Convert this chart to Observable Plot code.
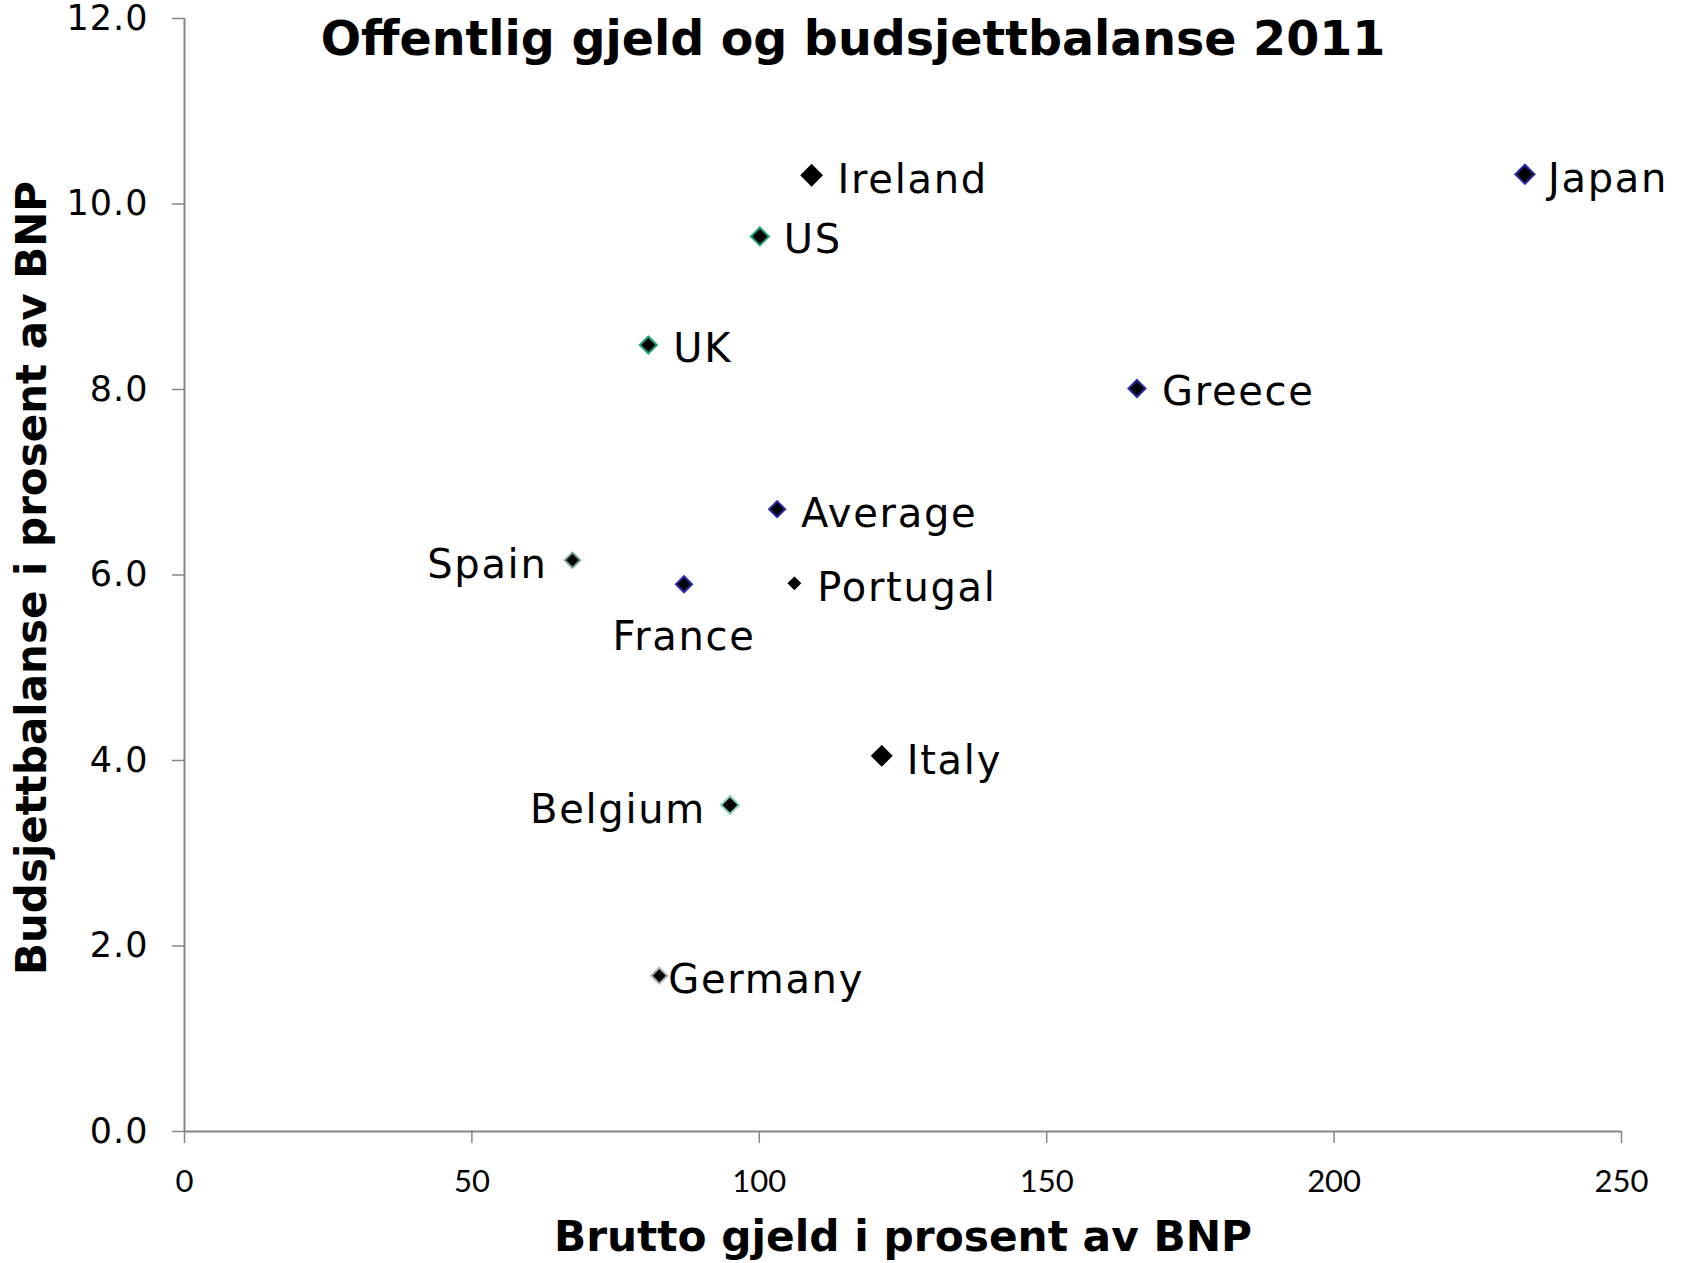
<!DOCTYPE html>
<html>
<head>
<meta charset="utf-8">
<script src="https://cdn.jsdelivr.net/npm/d3@7"></script>
<script src="https://cdn.jsdelivr.net/npm/@observablehq/plot@0.6"></script>
<style>
  html, body { margin: 0; padding: 0; background: #fff; }
  #chart svg { display: block; }
  g[aria-label="x-axis tick label"] text { font-family: "Lato", sans-serif; font-size: 31px; fill: #000; }
  g[aria-label="y-axis tick label"] text { font-family: "DejaVu Sans", sans-serif; font-size: 35px; fill: #000; letter-spacing: 1px; }
</style>
</head>
<body>
<div id="chart"></div>
<script>
// ---- data ----
const countries = ["Ireland", "Japan", "US", "UK", "Greece", "Average", "Spain", "France", "Portugal", "Italy", "Belgium", "Germany"];
const grossDebt = [109.1, 233.2, 100.1, 80.7, 165.7, 103.1, 67.5, 86.9, 106.1, 121.3, 94.9, 82.6];
const budgetBalance = [10.31, 10.32, 9.65, 8.48, 8.01, 6.71, 6.16, 5.90, 5.91, 4.05, 3.52, 1.68];
const xTicks = [0, 50, 100, 150, 200, 250];
const yTicks = [0, 2, 4, 6, 8, 10, 12];
const titleText = "Offentlig gjeld og budsjettbalanse 2011";
const xLabel = "Brutto gjeld i prosent av BNP";
const yLabel = "Budsjettbalanse i prosent av BNP";

// ---- styles (per series marker look and label placement) ----
const markerStyle = {
  Ireland:  {stroke: "#000000", r: 9.0},
  Japan:    {stroke: "#2a2aa8", r: 8.6},
  US:       {stroke: "#1ea47c", r: 8.1},
  UK:       {stroke: "#1ea47c", r: 7.7},
  Greece:   {stroke: "#2a2aa8", r: 7.7},
  Average:  {stroke: "#2a2aa8", r: 7.2},
  Spain:    {stroke: "#6e9c8c", r: 6.8},
  France:   {stroke: "#2a2aa8", r: 7.2},
  Portugal: {stroke: "#000000", r: 5.0},
  Italy:    {stroke: "#000000", r: 8.6},
  Belgium:  {stroke: "#86d4b4", r: 8.1},
  Germany:  {stroke: "#b0b0b0", r: 7.2}
};
const labelPlacement = {
  Ireland:  {textAnchor: "start",  dx: 26, dy: 5},
  Japan:    {textAnchor: "start",  dx: 23, dy: 5},
  US:       {textAnchor: "start",  dx: 24, dy: 4},
  UK:       {textAnchor: "start",  dx: 25, dy: 4},
  Greece:   {textAnchor: "start",  dx: 25, dy: 4},
  Average:  {textAnchor: "start",  dx: 24, dy: 5},
  Spain:    {textAnchor: "end",    dx: -25, dy: 5},
  France:   {textAnchor: "middle", dx: 0, dy: 53},
  Portugal: {textAnchor: "start",  dx: 23, dy: 5},
  Italy:    {textAnchor: "start",  dx: 25, dy: 5},
  Belgium:  {textAnchor: "end",    dx: -24, dy: 5},
  Germany:  {textAnchor: "start",  dx: 9, dy: 5}
};

const data = countries.map((name, i) => ({name, debt: grossDebt[i], balance: budgetBalance[i]}));

const axisColor = "#868686";
const marks = [
  Plot.ruleX([0], {stroke: axisColor, strokeWidth: 2}),
  Plot.ruleY([0], {stroke: axisColor, strokeWidth: 2}),
  Plot.axisX({ticks: xTicks, tickSize: 12, tickPadding: 26, stroke: axisColor, strokeWidth: 1.5, label: null, fontSize: 31}),
  Plot.axisY({ticks: yTicks, tickSize: 12, tickPadding: 24, stroke: axisColor, strokeWidth: 1.5, label: null, fontSize: 35, tickFormat: d3.format(".1f")})
];

for (const name of countries) {
  const rows = data.filter(d => d.name === name);
  const ms = markerStyle[name];
  marks.push(Plot.dot(rows, {x: "debt", y: "balance", symbol: "diamond2", r: ms.r, fill: "#000", stroke: ms.stroke, strokeWidth: 2}));
  const lp = labelPlacement[name];
  marks.push(Plot.text(rows, {x: "debt", y: "balance", text: "name", textAnchor: lp.textAnchor, dx: lp.dx, dy: lp.dy,
    fontSize: 40, fontFamily: "DejaVu Sans", fill: "#000"}));
}

marks.push(Plot.text([titleText], {frameAnchor: "top", lineAnchor: "middle", textAnchor: "middle", dx: -50, dy: 21, fontSize: 47.5, fontWeight: "bold", fontFamily: "DejaVu Sans", fill: "#000"}));
marks.push(Plot.text([xLabel], {frameAnchor: "bottom", lineAnchor: "middle", textAnchor: "middle", dy: 106, fontSize: 42.3, fontWeight: "bold", fontFamily: "DejaVu Sans", fill: "#000"}));
marks.push(Plot.text([yLabel], {frameAnchor: "left", lineAnchor: "middle", textAnchor: "middle", dx: -152, dy: 3, rotate: -90, fontSize: 42, fontWeight: "bold", fontFamily: "DejaVu Sans", fill: "#000"}));

const chart = Plot.plot({
  width: 1684,
  height: 1263,
  marginLeft: 184,
  marginRight: 63,
  marginTop: 18,
  marginBottom: 132,
  x: {domain: [0, 250]},
  y: {domain: [0, 12]},
  style: {background: "#fff", overflow: "visible"},
  marks
});
// slightly open letter spacing for the point labels, as in the reference
d3.select(chart).selectAll('g[font-size="40"] text').attr("letter-spacing", "1.7px");
document.getElementById("chart").appendChild(chart);
</script>
</body>
</html>
